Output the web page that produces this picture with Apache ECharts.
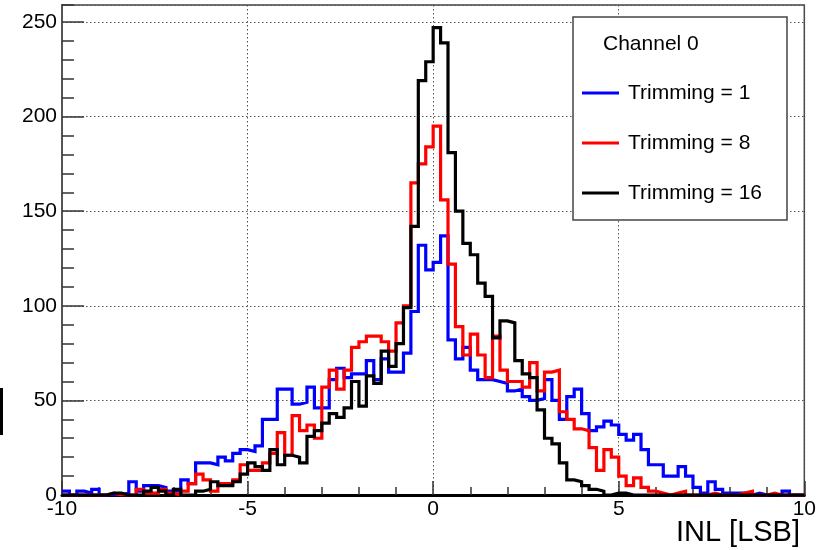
<!DOCTYPE html>
<html>
<head>
<meta charset="utf-8">
<script src="https://cdn.jsdelivr.net/npm/echarts@6/dist/echarts.min.js"></script>
<style>html,body{margin:0;padding:0;background:#fff}#c{width:819px;height:550px}</style>
</head>
<body>
<div id="c"></div>
<script>
// ---- data ----
const binStart = -10;
const binWidth = 0.2;
const seriesNames = ['Trimming = 1', 'Trimming = 8', 'Trimming = 16'];
const legendTitle = 'Channel 0';
const xAxisTitle = 'INL [LSB]';
const xTickValues = [-10, -5, 0, 5, 10];
const yTickValues = [0, 50, 100, 150, 200, 250];

const trim1 = [
  2, 0, 2, 1, 3, 0, 0, 0, 1, 7,
  2, 5, 5, 4, 2, 2, 8, 6, 17, 17,
  16, 20, 18, 22, 24, 23, 26, 40, 40, 56,
  56, 48, 49, 57, 46, 46, 61, 67, 62, 64,
  64, 71, 61, 72, 65, 65, 75, 97, 132, 119,
  123, 137, 82, 72, 78, 66, 61, 61, 60, 59,
  55, 56, 52, 50, 51, 61, 50, 40, 52, 56,
  43, 34, 36, 39, 37, 32, 29, 32, 24, 16,
  16, 10, 10, 15, 10, 4, 1, 7, 3, 1,
  1, 1, 0, 1, 0, 0, 0, 2, 0, 0
];
const trim8 = [
  0, 0, 0, 0, 0, 0, 1, 0, 0, 0,
  3, 1, 1, 3, 1, 0, 2, 6, 11, 8,
  2, 6, 6, 8, 16, 13, 13, 17, 22, 33,
  21, 42, 34, 37, 30, 57, 66, 56, 66, 78,
  81, 84, 84, 81, 76, 91, 100, 165, 175, 184,
  195, 156, 122, 89, 74, 85, 74, 62, 84, 66,
  60, 60, 57, 70, 55, 65, 66, 44, 40, 35,
  34, 25, 13, 24, 20, 10, 5, 9, 4, 2,
  1, 0, 1, 2, 0, 0, 0, 1, 0, 0,
  0, 1, 2, 0, 0, 1, 0, 0, 0, 0
];
const trim16 = [
  0, 0, 0, 0, 0, 0, 1, 1, 0, 0,
  0, 2, 4, 2, 0, 3, 0, 0, 2, 3,
  7, 5, 5, 7, 11, 17, 15, 13, 24, 16,
  21, 20, 17, 31, 34, 38, 43, 41, 46, 60,
  47, 63, 59, 76, 68, 80, 99, 142, 219, 229,
  247, 239, 181, 150, 133, 127, 112, 105, 83, 92,
  91, 71, 64, 62, 45, 30, 27, 17, 8, 7,
  5, 3, 2, 0, 1, 1, 0, 0, 0, 0,
  0, 0, 0, 0, 0, 0, 0, 0, 0, 0,
  0, 0, 0, 0, 0, 0, 0, 0, 0, 0
];

// ---- build ----
const FONT = 'Liberation Sans, Arial, Helvetica, sans-serif';
const colors = ['#0000ff', '#ff0000', '#000000'];
const allVals = [trim1, trim8, trim16];

function toSteps(vals) {
  const pts = vals.map((v, i) => [binStart + i * binWidth, v]);
  pts.push([binStart + vals.length * binWidth, vals[vals.length - 1]]);
  return pts;
}

const chart = echarts.init(document.getElementById('c'), null, {renderer: 'canvas'});
const legendCenters = [93, 143, 193];

const option = {
  animation: false,
  backgroundColor: '#fff',
  grid: {left: 62, right: 12, top: 5, bottom: 55, show: true, borderColor: '#444', borderWidth: 1.5, backgroundColor: 'transparent'},
  xAxis: {
    type: 'value', min: xTickValues[0], max: xTickValues[xTickValues.length - 1], interval: 5,
    axisLine: {show: true, onZero: false, lineStyle: {color: '#000', width: 3}},
    axisTick: {show: true, inside: true, length: 14, lineStyle: {color: '#333', width: 1.5}},
    minorTick: {show: true, splitNumber: 5, length: 8, lineStyle: {color: '#333', width: 1.5}},
    axisLabel: {fontFamily: FONT, fontSize: 21, color: '#000', margin: 4},
    splitLine: {show: true, lineStyle: {type: [1.5, 2.5], color: '#555', width: 1}}
  },
  yAxis: [{
    type: 'value', min: yTickValues[0], max: 259, interval: 50, position: 'left',
    axisLine: {show: true, onZero: false, lineStyle: {color: '#555', width: 2}},
    axisTick: {show: true, inside: true, length: 22, lineStyle: {color: '#333', width: 1.5}},
    axisLabel: {fontFamily: FONT, fontSize: 21, color: '#000', margin: 5, showMaxLabel: false},
    splitLine: {show: true, lineStyle: {type: [1.5, 2.5], color: '#555', width: 1}}
  }, {
    type: 'value', min: 0, max: 259, interval: 10, position: 'left', offset: 0,
    axisLine: {show: false, onZero: false},
    axisTick: {show: true, inside: true, length: 12, lineStyle: {color: '#333', width: 1.5}},
    axisLabel: {show: false},
    splitLine: {show: false}
  }],
  legend: seriesNames.map((n, i) => ({
    data: [n], left: 582, top: legendCenters[i] - 12, orient: 'vertical', icon: 'rect',
    itemWidth: 37, itemHeight: 3, padding: 0, selectedMode: false, z: 10,
    textStyle: {fontFamily: FONT, fontSize: 21, color: '#000', lineHeight: 24, padding: [0, 0, 0, 4]}
  })),
  graphic: [
    {type: 'rect', z: 8, zlevel: 0, shape: {x: 573, y: 17, width: 214, height: 203},
     style: {fill: '#fff', stroke: '#444', lineWidth: 1.5}},
    {type: 'text', z: 9, x: 603, y: 44, style: {text: legendTitle, font: '21px ' + FONT, fill: '#000', textVerticalAlign: 'middle', verticalAlign: 'middle'}},
    {type: 'text', z: 9, x: 800, y: 533, style: {text: xAxisTitle, font: '29px ' + FONT, fill: '#000', align: 'right', textAlign: 'right', verticalAlign: 'middle', textVerticalAlign: 'middle'}},
    {type: 'rect', z: 9, shape: {x: 0, y: 388, width: 3, height: 47}, style: {fill: '#000'}}
  ],
  series: allVals.map((vals, i) => ({
    name: seriesNames[i], type: 'line', step: 'end', symbol: 'none', showSymbol: false,
    data: toSteps(vals), color: colors[i], itemStyle: {color: colors[i]},
    lineStyle: {color: colors[i], width: 3.2, join: 'miter', cap: 'butt'},
    z: 2 + i, xAxisIndex: 0, yAxisIndex: 0, silent: true
  }))
};
chart.setOption(option);
</script>
</body>
</html>
